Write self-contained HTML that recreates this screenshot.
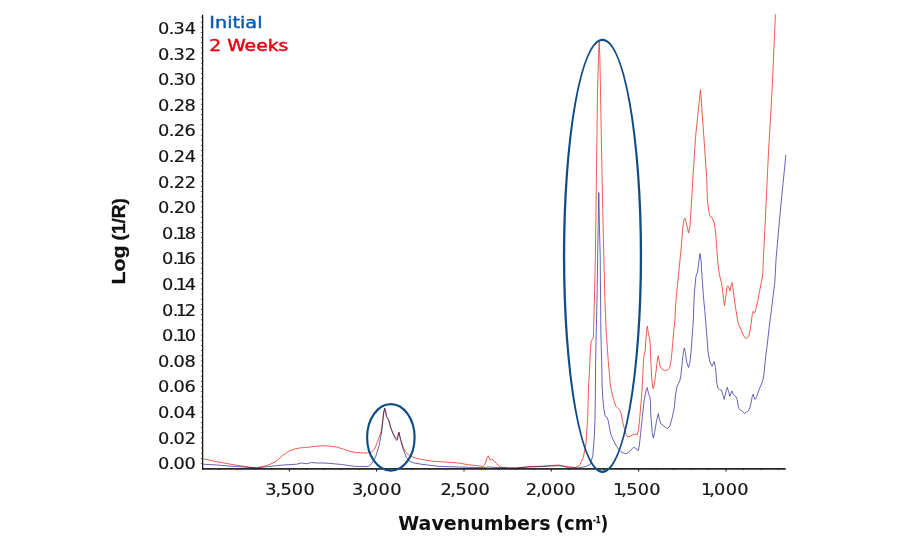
<!DOCTYPE html>
<html lang="en">
<head>
<meta charset="utf-8">
<title>Log (1/R) vs Wavenumbers</title>
<style>
html,body{margin:0;padding:0;background:#fff;}
body{width:900px;height:550px;overflow:hidden;font-family:"DejaVu Sans", "Liberation Sans", sans-serif;}
svg{display:block;}
text{font-family:"DejaVu Sans", "Liberation Sans", sans-serif;}
.tick{font-size:15.2px;fill:#141414;stroke:#141414;stroke-width:0.18px;}
.ttl{font-weight:bold;fill:#111;}
</style>
</head>
<body>
<svg width="900" height="550" viewBox="0 0 900 550">
<rect width="900" height="550" fill="#ffffff"/>

<g class="tick" transform="scale(1.17,1)">
<text x="135.00 144.13 148.25 157.78" y="469.3">0.00</text>
<text x="135.00 144.13 148.25 157.98" y="443.7">0.02</text>
<text x="135.00 144.13 148.25 157.83" y="418.1">0.04</text>
<text x="135.00 144.13 148.25 157.72" y="392.5">0.06</text>
<text x="135.00 144.13 148.25 157.78" y="366.9">0.08</text>
<text x="138.50 147.59 150.16 157.82" y="341.3">0.10</text>
<text x="138.50 147.59 150.16 158.02" y="315.7">0.12</text>
<text x="138.50 147.59 150.16 157.87" y="290.1">0.14</text>
<text x="138.50 147.59 150.16 157.76" y="264.5">0.16</text>
<text x="138.50 147.59 150.16 157.82" y="238.9">0.18</text>
<text x="135.00 144.13 148.45 157.78" y="213.3">0.20</text>
<text x="135.00 144.13 148.45 157.98" y="187.7">0.22</text>
<text x="135.00 144.13 148.45 157.83" y="162.1">0.24</text>
<text x="135.00 144.13 148.45 157.72" y="136.5">0.26</text>
<text x="135.00 144.13 148.45 157.78" y="110.9">0.28</text>
<text x="135.00 144.13 148.27 157.78" y="85.3">0.30</text>
<text x="135.00 144.13 148.27 157.98" y="59.7">0.32</text>
<text x="135.00 144.13 148.27 157.83" y="34.1">0.34</text>
<text x="226.73 235.52 239.73 249.44 259.44" y="495">3,500</text>
<text x="300.75 309.49 313.54 323.54 333.46" y="495">3,000</text>
<text x="376.57 384.92 389.26 399.10 409.01" y="495">2,500</text>
<text x="449.43 458.08 462.43 472.35 482.35" y="495">2,000</text>
<text x="523.92 531.07 535.29 545.00 554.87" y="495">1,500</text>
<text x="599.05 606.12 610.30 620.21 630.21" y="495">1,000</text>
</g>
<text class="ttl" transform="translate(125,0) rotate(-90)" font-size="19" stroke="#111" stroke-width="0.35" style="font-family:'Liberation Sans', 'DejaVu Sans', sans-serif"><tspan x="-284.6" y="0" textLength="39.3" lengthAdjust="spacingAndGlyphs">Log</tspan> <tspan x="-240.4" y="0" textLength="42.2" lengthAdjust="spacingAndGlyphs">(1/R)</tspan></text>
<text class="ttl" font-size="19.9" style="font-family:'DejaVu Sans', 'Liberation Sans', sans-serif"><tspan x="398.3" y="529.7" textLength="152.4" lengthAdjust="spacingAndGlyphs">Wavenumbers</tspan> <tspan x="555.8" y="529.7" textLength="37.6" lengthAdjust="spacingAndGlyphs">(cm</tspan><tspan x="592.9" y="522.6" font-size="8.6" stroke="#111" stroke-width="0.25" textLength="7.8" lengthAdjust="spacingAndGlyphs">-1</tspan><tspan x="600.4" y="529.7" textLength="7.8" lengthAdjust="spacingAndGlyphs">)</tspan></text>
<text x="209.3" y="28.4" font-size="16.2" fill="#0b5cad" stroke="#0b5cad" stroke-width="0.45" textLength="53.2" lengthAdjust="spacingAndGlyphs">Initial</text>
<text x="209.3" y="50.7" font-size="16.2" fill="#e60012" stroke="#e60012" stroke-width="0.45" textLength="79" lengthAdjust="spacingAndGlyphs">2 Weeks</text>
<path d="M200.9,463.4H202.6M200.9,458.3H202.6M200.9,453.1H202.6M200.9,448.0H202.6M200.9,442.9H202.6M200.9,437.8H202.6M200.9,432.6H202.6M200.9,427.5H202.6M200.9,422.4H202.6M200.9,417.2H202.6M200.9,412.1H202.6M200.9,407.0H202.6M200.9,401.8H202.6M200.9,396.7H202.6M200.9,391.6H202.6M200.9,386.4H202.6M200.9,381.3H202.6M200.9,376.2H202.6M200.9,371.1H202.6M200.9,365.9H202.6M200.9,360.8H202.6M200.9,355.7H202.6M200.9,350.5H202.6M200.9,345.4H202.6M200.9,340.3H202.6M200.9,335.1H202.6M200.9,330.0H202.6M200.9,324.9H202.6M200.9,319.8H202.6M200.9,314.6H202.6M200.9,309.5H202.6M200.9,304.4H202.6M200.9,299.2H202.6M200.9,294.1H202.6M200.9,289.0H202.6M200.9,283.9H202.6M200.9,278.7H202.6M200.9,273.6H202.6M200.9,268.5H202.6M200.9,263.3H202.6M200.9,258.2H202.6M200.9,253.1H202.6M200.9,247.9H202.6M200.9,242.8H202.6M200.9,237.7H202.6M200.9,232.5H202.6M200.9,227.4H202.6M200.9,222.3H202.6M200.9,217.2H202.6M200.9,212.0H202.6M200.9,206.9H202.6M200.9,201.8H202.6M200.9,196.6H202.6M200.9,191.5H202.6M200.9,186.4H202.6M200.9,181.2H202.6M200.9,176.1H202.6M200.9,171.0H202.6M200.9,165.9H202.6M200.9,160.7H202.6M200.9,155.6H202.6M200.9,150.5H202.6M200.9,145.3H202.6M200.9,140.2H202.6M200.9,135.1H202.6M200.9,129.9H202.6M200.9,124.8H202.6M200.9,119.7H202.6M200.9,114.6H202.6M200.9,109.4H202.6M200.9,104.3H202.6M200.9,99.2H202.6M200.9,94.0H202.6M200.9,88.9H202.6M200.9,83.8H202.6M200.9,78.6H202.6M200.9,73.5H202.6M200.9,68.4H202.6M200.9,63.3H202.6M200.9,58.1H202.6M200.9,53.0H202.6M200.9,47.9H202.6M200.9,42.7H202.6M200.9,37.6H202.6M200.9,32.5H202.6M200.9,27.3H202.6M200.9,22.2H202.6M200.9,17.1H202.6" stroke="#5a5a5a" stroke-width="0.9" fill="none"/>
<path d="M289.3,468.9v2.7M376.6,468.9v2.7M464.0,468.9v2.7M551.3,468.9v2.7M638.7,468.9v2.7M726.0,468.9v2.7" stroke="#222" stroke-width="1" fill="none"/>
<path d="M219.4,468.9v1.25M236.9,468.9v1.25M254.4,468.9v1.25M271.8,468.9v1.25M306.8,468.9v1.25M324.2,468.9v1.25M341.7,468.9v1.25M359.2,468.9v1.25M394.1,468.9v1.25M411.6,468.9v1.25M429.0,468.9v1.25M446.5,468.9v1.25M481.4,468.9v1.25M498.9,468.9v1.25M516.4,468.9v1.25M533.9,468.9v1.25M568.8,468.9v1.25M586.3,468.9v1.25M603.7,468.9v1.25M621.2,468.9v1.25M656.1,468.9v1.25M673.6,468.9v1.25M691.1,468.9v1.25M708.5,468.9v1.25M743.5,468.9v1.25M760.9,468.9v1.25M778.4,468.9v1.25" stroke="#666" stroke-width="0.9" fill="none"/>
<path d="M203.3,458.8 L216.7,461.7 L233.3,464.7 L250.0,467.2 L256.7,467.8 L266.7,465.6 L270.0,464.3 L276.1,461.3 L282.2,455.8 L288.3,451.5 L294.4,449.0 L300.6,447.8 L306.7,447.5 L312.8,446.6 L318.9,446.0 L325.0,445.8 L331.1,446.2 L337.2,447.2 L343.3,449.1 L349.5,451.3 L355.6,452.5 L361.7,452.8 L367.8,453.1 L371.5,452.1 L374.5,449.0 L377.1,442.9 L381.0,432.1 L383.3,415.1 L384.5,408.2 L385.4,410.5 L386.4,416.4 L387.3,417.7 L388.6,419.8 L390.9,428.2 L393.2,433.6 L395.5,438.0 L396.8,439.0 L398.8,432.3 L400.4,438.5 L402.5,446.0 L405.7,452.2 L409.6,455.6 L414.2,457.6 L420.4,459.2 L425.0,460.0 L433.3,461.3 L445.0,462.0 L458.3,463.0 L468.3,464.7 L478.3,465.8 L483.3,466.7 L485.3,463.3 L487.0,458.0 L488.3,455.8 L490.0,460.0 L491.7,459.2 L494.2,460.8 L496.7,463.7 L500.0,467.0 L508.3,468.0 L516.7,468.0 L528.3,466.7 L541.7,466.2 L551.7,465.5 L558.3,465.0 L563.3,465.8 L568.6,466.7 L575.5,467.5 L579.6,465.3 L583.3,457.5 L585.9,443.7 L587.6,419.5 L588.2,400.0 L588.5,387.0 L589.6,368.0 L590.5,349.0 L591.1,341.5 L593.4,337.6 L593.6,330.0 L594.4,300.0 L595.4,255.0 L596.3,185.0 L597.1,125.0 L597.5,90.0 L598.6,55.0 L599.2,41.3 L599.8,55.0 L600.5,90.0 L601.2,130.0 L602.2,185.0 L603.8,255.0 L604.9,300.0 L606.2,332.0 L607.0,342.7 L608.3,361.8 L609.5,374.5 L610.3,385.0 L611.7,391.8 L613.7,400.0 L615.8,406.1 L617.8,408.2 L619.9,410.2 L621.2,413.6 L622.6,421.8 L624.4,428.6 L626.0,434.1 L627.6,436.8 L630.1,436.5 L632.8,434.8 L635.5,434.1 L637.2,434.8 L638.5,430.0 L639.6,419.1 L641.0,402.7 L641.7,395.0 L642.8,374.5 L643.5,360.9 L644.2,354.1 L645.1,351.4 L645.8,340.5 L646.6,330.9 L647.3,326.1 L648.3,333.0 L649.2,337.0 L650.0,341.8 L650.7,358.2 L651.7,377.3 L652.6,386.8 L653.3,388.6 L654.4,384.1 L655.8,373.2 L657.1,362.3 L658.2,355.7 L659.2,360.9 L660.3,367.0 L661.9,368.8 L664.6,370.5 L667.4,369.9 L669.4,368.4 L670.8,362.3 L671.9,352.7 L672.8,341.8 L673.9,329.5 L674.9,320.0 L675.6,305.0 L677.0,290.0 L679.0,270.0 L681.0,250.0 L682.6,230.0 L684.0,219.0 L685.2,218.4 L687.0,226.0 L688.6,233.0 L690.0,226.0 L691.0,210.0 L691.6,200.0 L693.2,173.3 L695.6,136.4 L700.5,89.7 L704.7,148.7 L706.7,178.2 L707.4,200.0 L708.6,210.0 L710.0,216.4 L712.0,217.6 L714.0,222.0 L715.6,232.0 L717.0,252.0 L718.4,268.0 L719.5,275.0 L721.4,282.6 L722.6,290.3 L723.7,300.5 L724.5,305.5 L725.8,296.6 L726.8,287.7 L727.7,285.8 L728.7,287.1 L730.0,290.9 L731.2,285.2 L731.9,282.6 L732.8,287.7 L734.1,297.9 L736.0,310.6 L737.9,322.1 L739.2,325.9 L741.1,329.7 L743.0,334.8 L744.9,337.7 L746.8,338.3 L748.7,336.7 L750.0,331.0 L751.3,322.1 L752.3,314.5 L753.2,311.3 L754.5,313.2 L755.7,310.0 L757.6,301.7 L759.5,291.5 L761.5,281.4 L762.7,275.0 L763.4,258.2 L765.3,220.0 L768.6,150.0 L770.7,115.0 L772.6,80.0 L774.2,42.0 L775.4,14.3" fill="none" stroke="#ef3e30" stroke-width="0.85" stroke-linejoin="round"/>
<path d="M203.3,464.2 L216.7,465.0 L233.3,466.3 L250.0,467.5 L256.7,468.0 L266.7,466.7 L283.3,465.0 L296.7,464.2 L301.7,463.0 L306.7,463.7 L311.7,462.5 L316.7,463.0 L325.0,463.0 L333.3,463.7 L341.7,464.5 L347.7,465.4 L355.5,466.4 L368.6,466.4 L371.7,463.8 L375.6,456.9 L379.4,444.5 L382.1,429.0 L383.8,412.0 L384.7,408.2 L385.6,411.0 L386.6,416.8 L387.5,418.2 L388.8,420.3 L391.3,429.5 L393.6,435.0 L396.4,440.5 L397.3,440.0 L398.9,432.1 L400.6,439.5 L403.4,449.9 L406.5,457.6 L409.6,461.2 L414.2,463.0 L422.0,464.3 L430.0,465.3 L438.3,466.3 L458.3,467.0 L483.3,467.7 L488.3,467.0 L500.0,467.7 L508.3,468.0 L516.7,468.0 L528.3,467.0 L541.7,466.5 L551.7,466.0 L558.3,465.7 L563.3,466.3 L568.3,467.7 L577.3,467.9 L585.9,466.5 L590.2,464.4 L592.8,455.8 L594.3,436.8 L595.0,418.0 L595.3,400.0 L595.6,362.0 L596.2,335.0 L597.0,300.0 L597.7,255.0 L598.2,225.0 L598.8,192.6 L599.4,225.0 L600.2,255.0 L600.6,300.0 L600.9,335.0 L601.7,362.0 L602.1,385.0 L602.8,398.6 L603.9,409.5 L605.3,416.4 L607.2,417.5 L608.5,421.8 L609.6,428.6 L611.0,434.8 L613.0,439.5 L615.8,445.0 L618.5,449.1 L621.2,451.8 L624.0,453.2 L626.7,453.6 L629.4,451.8 L631.5,449.1 L633.5,447.5 L635.5,448.0 L637.2,450.2 L638.3,450.5 L639.4,445.0 L640.7,432.7 L642.4,416.4 L644.4,398.6 L646.2,389.8 L647.3,387.5 L648.5,393.9 L649.9,396.6 L650.5,402.7 L650.7,413.6 L652.2,432.5 L653.3,438.1 L654.6,432.5 L656.5,420.9 L658.3,413.6 L659.4,419.5 L660.9,423.8 L663.4,425.6 L665.5,427.5 L667.7,428.6 L669.9,426.0 L672.1,418.0 L674.3,407.8 L675.5,395.0 L676.9,386.8 L678.5,383.4 L679.9,380.7 L681.0,374.5 L682.4,360.9 L683.5,351.4 L684.3,348.0 L685.4,352.7 L686.7,362.3 L688.5,367.5 L689.9,362.3 L691.2,350.0 L692.6,330.9 L693.3,320.0 L693.8,306.0 L694.4,292.0 L696.0,276.0 L697.6,272.0 L699.0,260.0 L700.0,253.6 L701.0,260.0 L702.0,276.0 L703.4,296.0 L704.8,310.9 L706.6,332.8 L708.1,352.4 L709.9,362.2 L712.0,366.2 L714.2,361.6 L715.5,367.7 L716.2,375.0 L716.8,383.2 L717.9,388.1 L719.5,389.6 L721.4,390.1 L722.8,394.6 L724.2,399.4 L725.6,393.0 L727.3,387.3 L728.5,391.4 L729.9,396.4 L731.0,393.0 L731.9,391.0 L733.0,393.8 L734.2,395.5 L735.9,396.7 L737.1,399.5 L738.1,405.3 L738.9,408.6 L740.4,410.0 L742.0,410.8 L743.2,412.2 L744.6,413.5 L746.5,412.2 L748.6,410.6 L750.0,407.3 L751.4,401.2 L752.2,396.7 L753.1,394.2 L754.1,397.5 L754.9,399.4 L756.3,397.5 L758.0,393.0 L759.6,388.1 L761.6,384.0 L762.9,379.9 L763.9,375.0 L765.5,358.0 L767.2,345.0 L769.0,329.0 L771.0,313.2 L773.1,296.0 L774.8,282.6 L776.1,258.2 L779.5,220.0 L782.8,185.6 L785.9,154.8" fill="none" stroke="#4848ac" stroke-width="0.85" stroke-linejoin="round" style="mix-blend-mode:multiply"/>
<rect x="202.0" y="14.7" width="1.25" height="455.0" fill="#141414"/>
<rect x="202.0" y="468.1" width="583.7" height="1.6" fill="#141414"/>
<ellipse cx="390.85" cy="437.4" rx="23.75" ry="33.3" fill="none" stroke="#0f4c86" stroke-width="2.15"/>
<path d="M562.90,255.8A39.60,216.90 0 1 0 642.10,255.8A39.60,216.90 0 1 0 562.90,255.8ZM565.20,255.8A37.30,214.90 0 1 0 639.80,255.8A37.30,214.90 0 1 0 565.20,255.8Z" fill="#0f4c86" fill-rule="evenodd"/>
</svg>
</body>
</html>
